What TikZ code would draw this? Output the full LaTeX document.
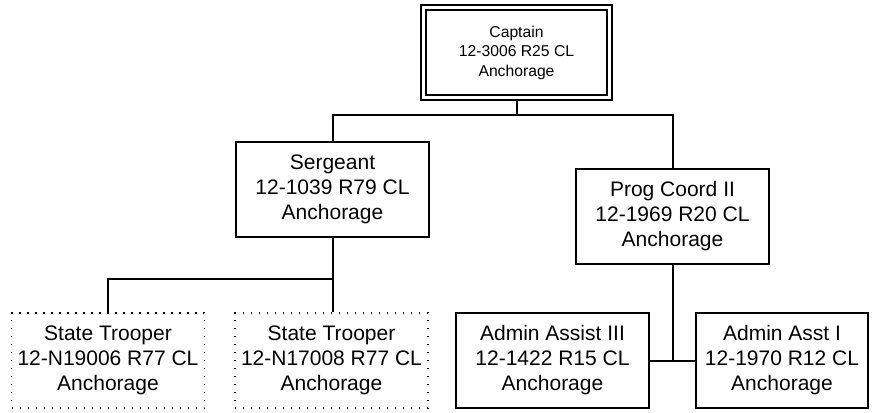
\documentclass[tikz,border=0pt]{standalone}
\usepackage{fontspec}
\setmainfont{Liberation Sans}
\usetikzlibrary{calc}

\begin{document}
\begin{tikzpicture}[x=1pt,y=-1pt,line width=2pt,
  box/.style={draw,rectangle,align=center,inner sep=0pt,
    minimum width=193pt,minimum height=95pt,
    font=\fontsize{21}{25}\selectfont},
  dotbox/.style={box,line width=1.6pt,dash pattern=on 1.4pt off 6.6pt},
  topbox/.style={box,double,double distance=3.2pt,line width=1.8pt,
    minimum width=186.2pt,minimum height=90.2pt,
    font=\fontsize{15.7}{19.5}\selectfont}]
\useasboundingbox (0,0) rectangle (874,412);
\node[topbox] (cap) at (516.5,52.5) {Captain\\12-3006 R25 CL\\Anchorage};
\node[box] (serg) at (332.5,189) {Sergeant\\12-1039 R79 CL\\Anchorage};
\node[box] (prog) at (672.5,216.5) {Prog Coord II\\12-1969 R20 CL\\Anchorage};
\node[dotbox] (trp1) at (108,360.5) {State Trooper\\12-N19006 R77 CL\\Anchorage};
\node[dotbox] (trp2) at (331.5,360.5) {State Trooper\\12-N17008 R77 CL\\Anchorage};
\node[box] (adm3) at (552.5,360.5) {Admin Assist III\\12-1422 R15 CL\\Anchorage};
\node[box,minimum width=172pt] (adm1) at (782,360.5) {Admin Asst I\\12-1970 R12 CL\\Anchorage};
\coordinate (j1) at ($(cap.south)+(0,16)$);
\coordinate (j2) at ($(serg.south)+(0,41)$);
\draw (cap.south) -- (j1) -| (serg.north);
\draw (j1) -| (prog.north);
\draw (serg.south) -- (j2) -| (trp1.north);
\draw (j2) -- (trp2.north -| j2);
\draw (prog.south) -- (prog.south |- adm3.east);
\draw (adm3.east) -- (adm1.west);
\end{tikzpicture}
\end{document}
